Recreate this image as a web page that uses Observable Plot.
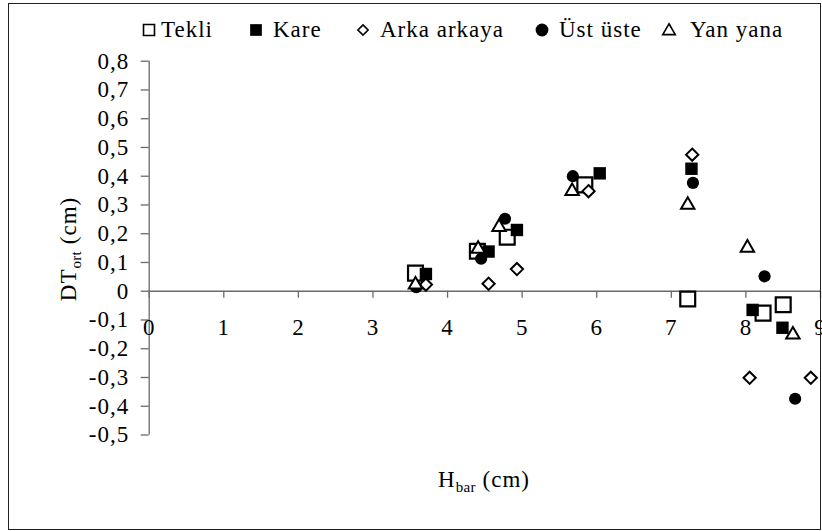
<!DOCTYPE html>
<html>
<head>
<meta charset="utf-8">
<script src="https://cdn.jsdelivr.net/npm/d3@7"></script>
<script src="https://cdn.jsdelivr.net/npm/@observablehq/plot@0.6"></script>
<style>
  html, body { margin: 0; padding: 0; background: #fff; }
  #wrap { position: relative; width: 822px; height: 531px; overflow: hidden;
          font-family: "Liberation Serif", Tinos, "Times New Roman", Times, "Nimbus Roman", "DejaVu Serif", serif; color: #000; }
  #frame { position: absolute; left: 8px; top: 3px; width: 813px; height: 527px;
           border: 1.5px solid #222; box-sizing: border-box; pointer-events: none; }
  #chart { position: absolute; left: 0; top: 0; }
  #chart svg text { font-family: "Liberation Serif", Tinos, "Times New Roman", Times, "Nimbus Roman", "DejaVu Serif", serif; }
  .lbl { position: absolute; font-size: 23px; letter-spacing: 1px; white-space: nowrap; line-height: 1; }
  .lbl sub { font-size: 15px; vertical-align: -5px; letter-spacing: 0.3px; }
  #legend { position: absolute; left: 0; top: 16px; height: 28px; font-size: 23px; letter-spacing: 1px; }
  .item { position: absolute; top: 0; display: flex; align-items: center; white-space: nowrap; height: 28px; }
  .item svg { display: block; }
</style>
</head>
<body>
<div id="wrap">
  <div id="chart"></div>
  <div id="legend"></div>
  <div class="lbl" id="ylab" style="left:70px; top:249px; transform: translate(-50%,-50%) rotate(-90deg);">DT<sub>ort</sub> (cm)</div>
  <div class="lbl" id="xlab" style="left:484px; top:481px; transform: translate(-50%,-50%);">H<sub>bar</sub> (cm)</div>
  <div id="frame"></div>
</div>
<script>
// ---- data ----
const xTicks = [0, 1, 2, 3, 4, 5, 6, 7, 8, 9];
const yTicks = [-0.5, -0.4, -0.3, -0.2, -0.1, 0, 0.1, 0.2, 0.3, 0.4, 0.5, 0.6, 0.7, 0.8];
const seriesNames = ["Tekli", "Kare", "Arka arkaya", "Üst üste", "Yan yana"];

const tekliX = [3.57, 4.40, 4.80, 5.84, 7.22, 8.23, 8.50];
const tekliY = [0.063, 0.139, 0.188, 0.370, -0.027, -0.076, -0.047];
const kareX  = [3.71, 4.55, 4.93, 6.04, 7.27, 8.09, 8.49];
const kareY  = [0.060, 0.138, 0.213, 0.410, 0.426, -0.065, -0.127];
const arkaX  = [3.71, 4.55, 4.93, 5.89, 7.28, 8.05, 8.87];
const arkaY  = [0.023, 0.026, 0.077, 0.348, 0.475, -0.301, -0.301];
const ustX   = [3.58, 4.45, 4.77, 5.68, 7.29, 8.25, 8.66];
const ustY   = [0.014, 0.113, 0.252, 0.400, 0.377, 0.052, -0.374];
const yanX   = [3.57, 4.41, 4.69, 5.67, 7.22, 8.02, 8.63];
const yanY   = [0.023, 0.147, 0.223, 0.348, 0.300, 0.151, -0.151];

// ---- styles per series ----
const seriesX = [tekliX, kareX, arkaX, ustX, yanX];
const seriesY = [tekliY, kareY, arkaY, ustY, yanY];
const styles = [
  {symbol: d3.symbolSquare,    r: 8.4, fill: "white", stroke: "black", sw: 2.2, lr: 6.2},
  {symbol: d3.symbolSquare,    r: 7.0, fill: "black", stroke: "none",  sw: 0,   lr: 6.6},
  {symbol: d3.symbolDiamond2,  r: 5.5, fill: "white", stroke: "black", sw: 2.0, lr: 4.6},
  {symbol: d3.symbolCircle,    r: 6.1, fill: "black", stroke: "none",  sw: 0,   lr: 6.4},
  {symbol: d3.symbolTriangle2, r: 6.4, fill: "white", stroke: "black", sw: 2.0, lr: 6.0}
];

const fmt = d => d === 0 ? "0" : d.toFixed(1).replace(".", ",");
const axisColor = "#6a6a6a";
const serifFamily = '"Liberation Serif", Tinos, "Times New Roman", Times, "Nimbus Roman", "DejaVu Serif", serif';

const marks = [
  Plot.ruleX([0], {y1: -0.5, y2: 0.8, stroke: axisColor, strokeWidth: 1.3}),
  Plot.ruleY([0], {x1: 0, x2: 9, stroke: axisColor, strokeWidth: 1.3}),
  Plot.ruleY(yTicks, {y: d => d, x1: 0, x2: 0, insetLeft: -8, stroke: axisColor, strokeWidth: 1.3}),
  Plot.ruleX(xTicks, {x: d => d, y1: 0, y2: 0, insetBottom: -7, stroke: axisColor, strokeWidth: 1.3}),
  Plot.text(yTicks, {x: 0, y: d => d, text: fmt, textAnchor: "end", dx: -20, fill: "black",
                     fontFamily: serifFamily, fontSize: 23}),
  Plot.text(xTicks, {x: d => d, y: 0, text: d => String(d), dy: 36, fill: "black",
                     fontFamily: serifFamily, fontSize: 23})
];

seriesNames.forEach((name, k) => {
  const data = seriesX[k].map((x, i) => ({x, y: seriesY[k][i], s: name}));
  const st = styles[k];
  marks.push(Plot.dot(data, {
    x: "x", y: "y", symbol: () => st.symbol, r: st.r,
    fill: st.fill, stroke: st.stroke, strokeWidth: st.sw
  }));
});

const plot = Plot.plot({
  width: 822, height: 531,
  marginLeft: 148.7, marginRight: 2, marginTop: 60.7, marginBottom: 96.5,
  x: {domain: [0, 9], axis: null},
  y: {domain: [-0.5, 0.8], axis: null},
  symbol: {type: "identity"},
  style: {fontSize: "23px", letterSpacing: "1px", background: "transparent", color: "black", overflow: "visible"},
  marks
});
document.getElementById("chart").appendChild(plot);

// ---- legend ----
const legendLeft = [140, 247, 354, 533, 660];
const legend = d3.select("#legend");
seriesNames.forEach((name, k) => {
  const st = styles[k];
  const item = legend.append("div").attr("class", "item").style("left", legendLeft[k] + "px");
  const sz = 18;
  const svg = item.append("svg").attr("width", sz).attr("height", sz)
    .style("margin-right", k === 4 ? "12px" : (k === 0 ? "3px" : "8px"));
  svg.append("path")
    .attr("transform", `translate(${sz/2},${sz/2 + (k === 4 ? 1 : 0)})`)
    .attr("d", d3.symbol(st.symbol, Math.PI * st.lr * st.lr)())
    .attr("fill", st.fill).attr("stroke", st.stroke).attr("stroke-width", st.sw ? 1.6 : 0);
  item.append("span").text(name);
});
</script>
</body>
</html>
